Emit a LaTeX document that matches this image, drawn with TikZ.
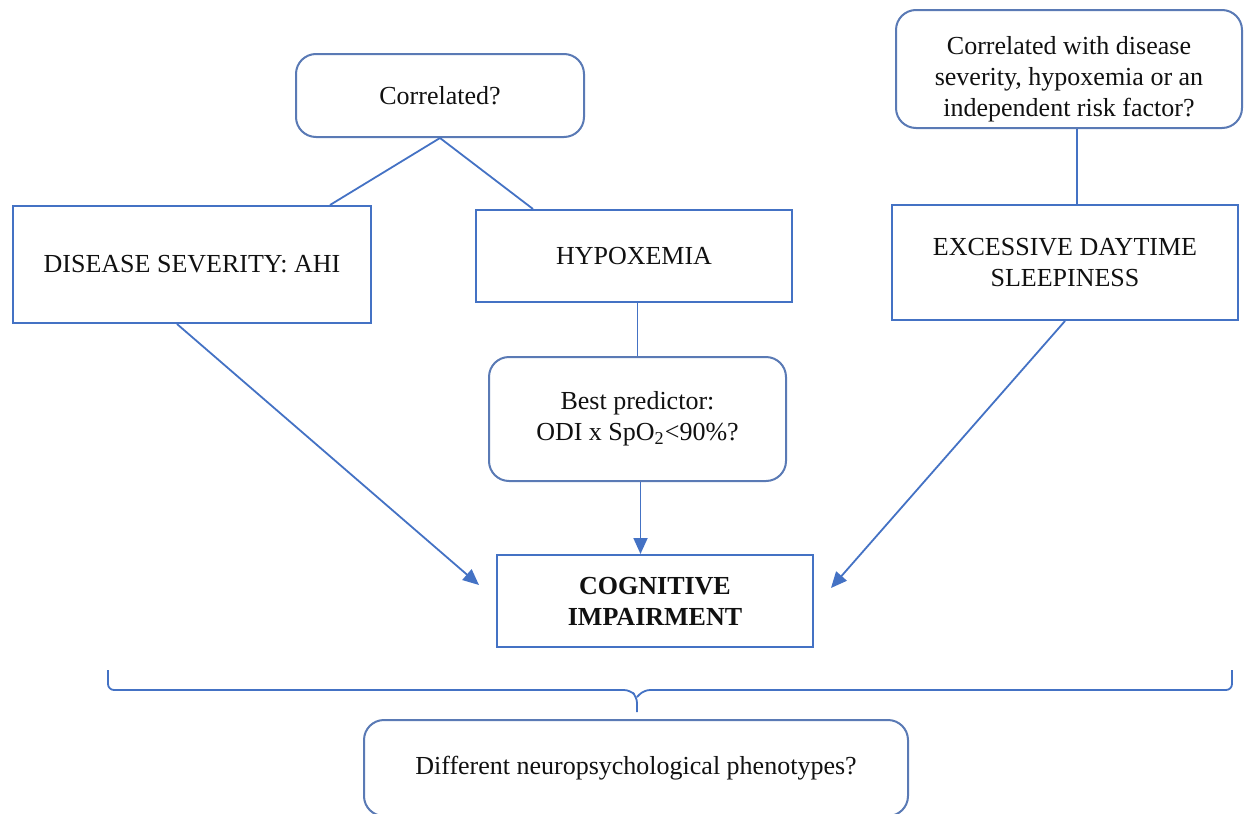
\documentclass[tikz,border=0pt]{standalone}
\usepackage{fontspec}
\setmainfont{Liberation Serif}
\usepackage{tikz}
\usetikzlibrary{arrows.meta,calc}
\definecolor{cLine}{HTML}{4472C4}
\definecolor{cRound}{HTML}{5A7AB5}
\definecolor{cText}{HTML}{111111}
\tikzset{
  box/.style={draw=cLine, line width=1pt, fill=white, align=center,
              font=\fontsize{13}{15.5}\selectfont, text=cText, inner sep=3pt},
  qbox/.style={box, draw=cRound, rounded corners=10pt},
  arr/.style={-{Triangle[length=8pt,width=7pt]}, line width=0.9pt, cLine},
  lnk/.style={line width=0.9pt, cLine}
}

\begin{document}
\begin{tikzpicture}[x=0.5pt, y=-0.5pt]
\useasboundingbox (0,0) rectangle (1244,814);
\clip (0,0) rectangle (1244,814);
% ----- upper questions -----
\node[qbox, minimum width=144pt, minimum height=41.5pt] (corr) at (440,95.5) {Correlated?};
\node[qbox, minimum width=173pt, minimum height=59pt] (riskq) at (1069,69)
  {\rule{0pt}{19pt}Correlated with disease\\severity, hypoxemia or an\\independent risk factor?};
% ----- factors -----
\node[box, minimum width=179pt, minimum height=58.5pt] (sev) at (192,264.5) {DISEASE SEVERITY: AHI};
\node[box, minimum width=158pt, minimum height=46pt] (hyp) at (634,256) {HYPOXEMIA};
\node[box, minimum width=173pt, minimum height=57.5pt] (eds) at (1065,262.5) {EXCESSIVE DAYTIME\\SLEEPINESS};
\node[qbox, minimum width=148.5pt, minimum height=62pt] (pred) at (637.5,419) {Best predictor:\\ODI x SpO\textsubscript{2}<90\%?};
% ----- outcome -----
\node[box, minimum width=158pt, minimum height=46pt, font=\fontsize{13}{15.5}\selectfont\bfseries] (cog) at (655,601) {COGNITIVE\\IMPAIRMENT};
\node[qbox, minimum width=272pt, minimum height=48pt] (pheno) at (636,768) {Different neuropsychological phenotypes?};
% ----- links -----
\draw[lnk] (corr.south) -- ([xshift=69pt]sev.north);
\draw[lnk] (corr.south) -- ([xshift=-50.5pt]hyp.north);
\draw[lnk] (pred.north |- hyp.south) -- (pred.north);
\draw[lnk] ([xshift=4pt]riskq.south) -- ([xshift=4pt]riskq.south |- eds.north);
\draw[arr] ([xshift=-7.5pt]sev.south) -- ([xshift=-8.5pt,yshift=8pt]cog.west);
\draw[arr] (eds.south) -- ([xshift=8.5pt,yshift=6.5pt]cog.east);
\draw[arr] ([xshift=1.5pt]pred.south) -- ([xshift=1.5pt]pred.south |- cog.north);
% ----- brace -----
\coordinate (bl) at (108,670);
\coordinate (br) at (1232,670);
\coordinate (tip) at (637,712);
\draw[lnk, rounded corners=3pt] (bl) |- (630,690) -- (637,697) -- (tip);
\draw[lnk, rounded corners=3pt] (br) |- (644,690) -- (637,697);
\end{tikzpicture}
\end{document}
